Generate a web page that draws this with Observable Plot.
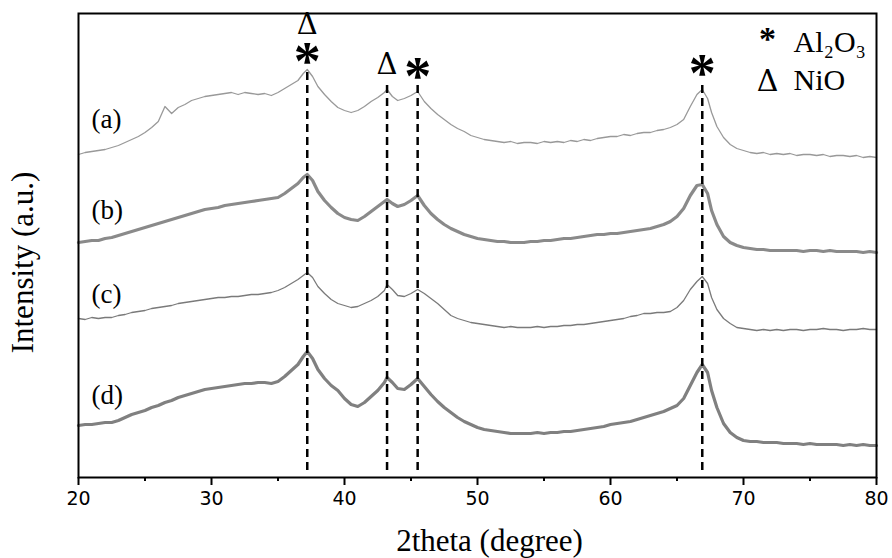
<!DOCTYPE html>
<html><head><meta charset="utf-8">
<script src="https://cdn.jsdelivr.net/npm/d3@7"></script>
<script src="https://cdn.jsdelivr.net/npm/@observablehq/plot@0.6"></script>
<style>body{margin:0;background:#fff}</style>
</head><body><div id="chart"></div>
<script>
// 2θ sampling positions (degree)
const twoTheta = [
  20,20.5,21,21.5,22,22.5,23,23.5,24,24.5,
  25,25.5,26,26.5,27,27.5,28,28.5,29,29.5,
  30,30.5,31,31.5,32,32.5,33,33.5,34,34.5,
  35,35.5,36,36.5,36.9,37.2,37.6,38,38.5,39,
  39.5,40,40.5,41,41.5,42,42.5,43,43.2,43.6,
  44,44.5,45,45.5,46,46.5,47,47.5,48,48.5,
  49,49.5,50,50.5,51,51.5,52,52.5,53,53.5,
  54,54.5,55,55.5,56,56.5,57,57.5,58,58.5,
  59,59.5,60,60.5,61,61.5,62,62.5,63,63.5,
  64,64.5,65,65.5,66,66.5,66.9,67.3,67.6,68,
  68.5,69,69.5,70,70.5,71,71.5,72,72.5,73,
  73.5,74,74.5,75,75.5,76,76.5,77,77.5,78,
  78.5,79,79.5,80
];
// Intensities (a.u., stacked with offsets)
const curveA = [
  323,325,326,327,328,330,332,335,338,341,
  345,350,356,371,364,370,373,377,379,381,
  382,383,384,385,383,385,384,383,384,382,
  385,389,393,397,404,408,401,391,383,376,
  370,367,365,367,371,376,380,385,388,381,
  377,379,382,386,376,369,363,358,353,349,
  346,342,340,338,337,336,335,336,334,335,
  335,334,336,335,336,335,337,336,338,337,
  339,340,341,341,343,342,344,345,345,347,
  348,350,353,358,371,383,388,379,365,351,
  340,333,329,327,325,324,325,323,324,323,
  324,322,323,323,322,323,321,322,322,321,
  322,320,321,320
];
const curveB = [
  235,236,237,237,239,240,242,244,246,248,
  250,252,254,256,258,260,262,264,266,268,
  269,270,272,273,274,275,276,277,278,279,
  280,284,289,294,300,303,297,286,277,270,
  264,260,258,257,261,266,271,276,278,274,
  271,273,277,282,272,264,258,253,249,246,
  243,241,239,238,237,236,236,235,235,235,
  236,236,237,237,238,239,239,240,241,242,
  243,243,244,244,245,246,247,248,249,251,
  253,256,261,269,282,292,293,284,267,253,
  241,235,232,230,229,228,228,227,227,227,
  227,227,226,227,227,226,227,226,226,226,
  226,225,226,225
];
const curveC = [
  159,158,160,159,160,160,162,163,165,166,
  167,169,170,171,172,174,175,176,177,178,
  179,180,180,181,181,182,183,183,184,185,
  187,190,194,198,202,205,200,191,184,178,
  174,172,170,171,174,177,181,187,193,188,
  182,181,184,188,184,179,174,168,162,159,
  157,155,154,153,152,151,150,151,150,150,
  150,151,150,151,151,152,152,153,153,154,
  155,156,157,158,159,161,162,164,164,165,
  165,166,170,177,188,196,201,194,180,168,
  159,154,150,149,148,147,148,147,148,147,
  148,148,147,148,148,149,148,148,147,148,
  148,149,148,148
];
const curveD = [
  52,53,53,54,55,55,57,60,63,65,
  67,70,72,75,77,80,82,84,86,88,
  89,90,91,92,93,94,94,95,95,94,
  96,101,107,113,121,126,119,108,99,92,
  87,79,73,71,75,81,87,95,100,95,
  89,88,93,99,91,83,76,70,65,60,
  56,53,50,48,47,46,45,44,44,44,
  44,45,44,45,45,46,46,47,48,49,
  50,51,53,54,55,56,58,60,62,64,
  66,69,72,79,92,105,113,105,87,70,
  54,45,40,37,36,36,35,35,35,34,
  34,34,33,34,33,33,33,33,32,33,
  32,33,32,32
];
const sampleLabels = ["(a)", "(b)", "(c)", "(d)"];
const labelLevels = [358, 267, 183, 82];
const peakPos = [37.2, 43.2, 45.5, 66.9];
const peakTop = [410, 395, 395, 395];
const markerX = [37.2, 37.2, 43.2, 45.5, 66.9];
const markerSym = ["Δ", "*", "Δ", "*", "*"];
const markerLevel = [453, 424, 413, 409, 412];
const xTicks = [20, 30, 40, 50, 60, 70, 80];
const xMinor = [25, 35, 45, 55, 65, 75];
const yRange = [0, 464];
const legendSym = ["*", "Δ"];
const legendText = ["Al₂O₃", "NiO"];

const curves = [
  {values: curveA, stroke: "#999", w: 1.3},
  {values: curveB, stroke: "#8a8a8a", w: 3.2},
  {values: curveC, stroke: "#7a7a7a", w: 1.3},
  {values: curveD, stroke: "#808080", w: 3.2}
];
const serif = "'Liberation Serif', 'Times New Roman', serif";
const markers = markerX.map((x, i) => ({x, s: markerSym[i], y: markerLevel[i]}));
const peaks = peakPos.map((x, i) => ({x, top: peakTop[i]}));

const chart = Plot.plot({
  width: 892, height: 558,
  marginLeft: 78, marginRight: 16, marginTop: 13, marginBottom: 81,
  x: {domain: [20, 80]},
  y: {domain: yRange, axis: null},
  style: {background: "white", color: "black"},
  marks: [
    ...curves.map(c => Plot.lineY(c.values, {x: (d, i) => twoTheta[i], y: d => d, stroke: c.stroke, strokeWidth: c.w, strokeLinejoin: "round"})),
    Plot.ruleX(peaks, {x: "x", y1: 7, y2: "top", stroke: "black", strokeWidth: 2.5, strokeDasharray: "8,5"}),
    Plot.text(markers.filter(d => d.s === "Δ"), {x: "x", y: "y", text: "s", textAnchor: "middle", lineAnchor: "middle", fontFamily: "'DejaVu Serif', serif", fontSize: 29, fill: "black"}),
    Plot.text(markers.filter(d => d.s === "*"), {x: "x", y: "y", text: "s", textAnchor: "middle", lineAnchor: "middle", fontFamily: serif, fontWeight: "bold", fontSize: 54, dy: 8, fill: "black"}),
    Plot.text(sampleLabels, {x: 20, y: (d, i) => labelLevels[i], dx: 13, textAnchor: "start", lineAnchor: "middle", fontFamily: serif, fontSize: 27, fill: "black"}),
    Plot.frame({stroke: "black", strokeWidth: 2}),
    Plot.axisX({ticks: xTicks, tickSize: 8, tickPadding: 6, strokeWidth: 2, fontSize: 19, fontFamily: "'DejaVu Sans', sans-serif", tickFormat: d => String(d), label: null}),
    Plot.axisX({ticks: xMinor, tickSize: 4, strokeWidth: 2, tickFormat: () => "", label: null}),
    Plot.text(["2theta (degree)"], {frameAnchor: "bottom", textAnchor: "middle", lineAnchor: "middle", dx: 12, dy: 64, fontFamily: serif, fontSize: 31, fill: "black"}),
    Plot.text(["Intensity (a.u.)"], {frameAnchor: "left", textAnchor: "middle", lineAnchor: "middle", rotate: -90, dx: -55.5, dy: 17, fontFamily: serif, fontSize: 31, fill: "black"}),
    Plot.text([legendSym[0]], {frameAnchor: "top-right", textAnchor: "middle", lineAnchor: "middle", dx: -109, dy: 26, fontFamily: serif, fontWeight: "bold", fontSize: 34, fill: "black"}),
    Plot.text([legendSym[1]], {frameAnchor: "top-right", textAnchor: "middle", lineAnchor: "middle", dx: -109, dy: 68, fontFamily: "'DejaVu Serif', serif", fontSize: 30, fill: "black"}),
    Plot.text([legendText[0]], {frameAnchor: "top-right", textAnchor: "start", lineAnchor: "middle", dx: -83, dy: 29, fontFamily: serif, fontSize: 30, fill: "black"}),
    Plot.text([legendText[1]], {frameAnchor: "top-right", textAnchor: "start", lineAnchor: "middle", dx: -83, dy: 67, fontFamily: serif, fontSize: 30, fill: "black"})
  ]
});
document.getElementById("chart").appendChild(chart);
</script>
</body></html>
